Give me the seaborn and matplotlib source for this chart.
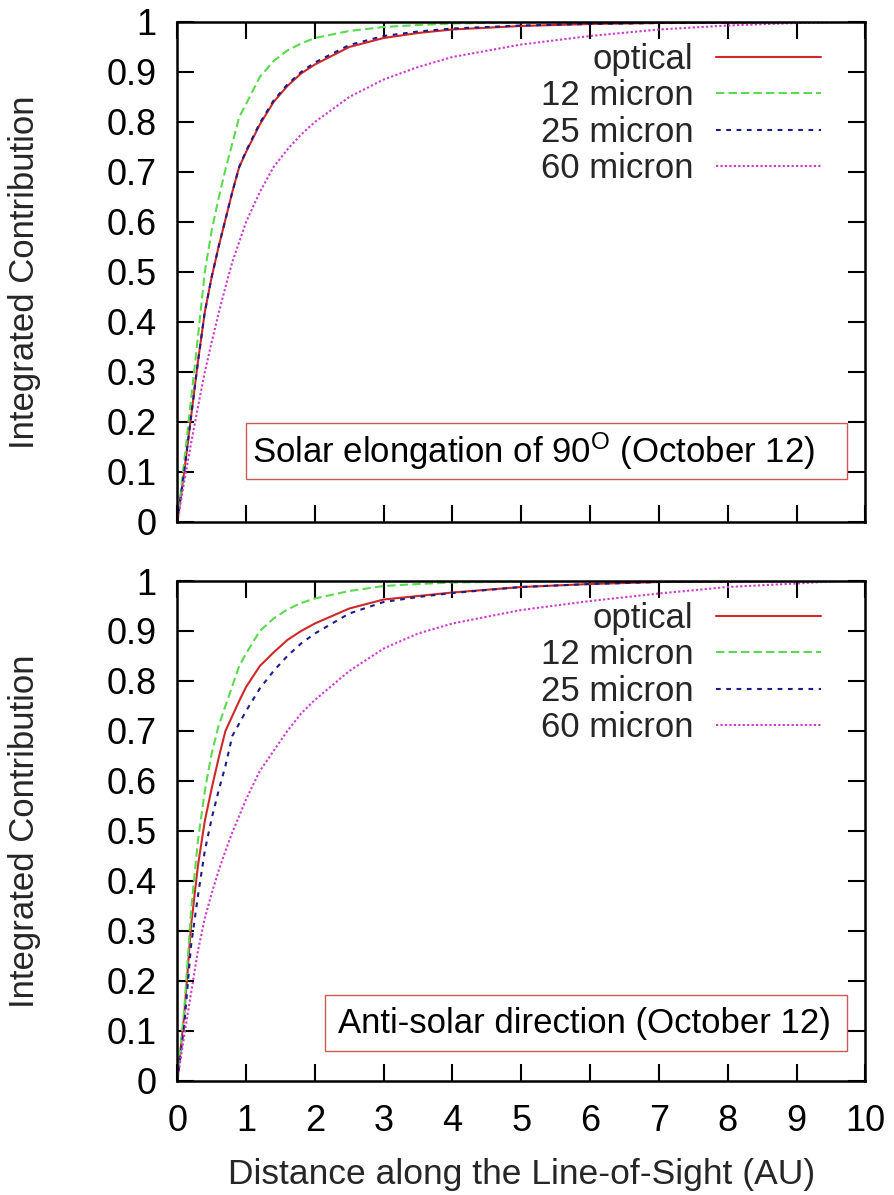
import numpy as np
import pandas as pd
import matplotlib
matplotlib.use("Agg")
import matplotlib.pyplot as plt
from matplotlib.patches import Rectangle
import seaborn as sns

# ---------------- data ----------------
bands = ["optical", "12 micron", "25 micron", "60 micron"]

distance = [0, 0.1, 0.2, 0.3, 0.4, 0.5, 0.6, 0.7, 0.8, 0.9, 1.0, 1.2, 1.4, 1.6,
            1.8, 2.0, 2.5, 3.0, 3.5, 4.0, 5.0, 6.0, 7.0, 8.0, 9.0, 9.6]

# top panel: solar elongation of 90 deg
top_optical = [0, 0.10, 0.21, 0.32, 0.42, 0.49, 0.55, 0.605, 0.66, 0.71, 0.74, 0.795,
               0.84, 0.872, 0.897, 0.915, 0.95, 0.968, 0.978, 0.985, 0.992, 0.996,
               0.998, 0.999, 1.0, 1.0]
top_12 = [0, 0.12, 0.245, 0.37, 0.50, 0.583, 0.647, 0.705, 0.757, 0.81, 0.836, 0.89,
          0.922, 0.943, 0.957, 0.968, 0.982, 0.99, 0.994, 0.997, 0.999, 1.0, 1.0,
          1.0, 1.0, 1.0]
top_25 = [0, 0.10, 0.21, 0.32, 0.42, 0.49, 0.55, 0.605, 0.66, 0.71, 0.742, 0.798,
          0.843, 0.875, 0.9, 0.919, 0.954, 0.972, 0.981, 0.987, 0.993, 0.996,
          0.998, 0.999, 1.0, 1.0]
top_60 = [0, 0.08, 0.157, 0.23, 0.30, 0.36, 0.417, 0.47, 0.52, 0.56, 0.60, 0.66,
          0.71, 0.745, 0.775, 0.80, 0.85, 0.885, 0.91, 0.93, 0.955, 0.972, 0.985,
          0.993, 0.998, 1.0]

# bottom panel: anti-solar direction
bot_optical = [0, 0.13, 0.31, 0.43, 0.52, 0.585, 0.645, 0.70, 0.73, 0.76, 0.788,
               0.83, 0.857, 0.882, 0.90, 0.915, 0.945, 0.963, 0.97, 0.977, 0.988,
               0.994, 0.998, 0.999, 1.0, 1.0]
bot_12 = [0, 0.14, 0.34, 0.48, 0.58, 0.655, 0.71, 0.75, 0.79, 0.83, 0.855, 0.90,
          0.925, 0.943, 0.956, 0.965, 0.98, 0.99, 0.994, 0.997, 0.999, 1.0, 1.0,
          1.0, 1.0, 1.0]
bot_25 = [0, 0.11, 0.27, 0.37, 0.46, 0.525, 0.58, 0.63, 0.69, 0.715, 0.74, 0.785,
          0.82, 0.85, 0.875, 0.895, 0.935, 0.958, 0.968, 0.976, 0.988, 0.994,
          0.998, 0.999, 1.0, 1.0]
bot_60 = [0, 0.09, 0.175, 0.26, 0.325, 0.375, 0.42, 0.46, 0.497, 0.53, 0.563, 0.62,
          0.66, 0.70, 0.735, 0.762, 0.82, 0.865, 0.895, 0.915, 0.942, 0.96, 0.975,
          0.988, 0.995, 1.0]

x_ticks = [0, 1, 2, 3, 4, 5, 6, 7, 8, 9, 10]
y_ticks = [0, 0.1, 0.2, 0.3, 0.4, 0.5, 0.6, 0.7, 0.8, 0.9, 1.0]
y_tick_labels = ["0", "0.1", "0.2", "0.3", "0.4", "0.5", "0.6", "0.7", "0.8", "0.9", "1"]

panel_notes = [r"Solar elongation of 90$^{\mathrm{O}}$ (October 12)",
               "Anti-solar direction (October 12)"]
x_label = "Distance along the Line-of-Sight (AU)"
y_label = "Integrated Contribution"

# ---------------- style ----------------
sns.set_style("ticks")
plt.rcParams["font.family"] = ["Liberation Sans", "DejaVu Sans"]
plt.rcParams["mathtext.fontset"] = "custom"
plt.rcParams["mathtext.rm"] = "Liberation Sans"
plt.rcParams["mathtext.it"] = "Liberation Sans:italic"
plt.rcParams["mathtext.bf"] = "Liberation Sans:bold"
plt.rcParams["lines.scale_dashes"] = False

palette = {"optical": "#d02828", "12 micron": "#5ada4e",
           "25 micron": "#1c1c8a", "60 micron": "#cc3ccc"}
dashes = {"optical": "", "12 micron": (6.0, 3.0),
          "25 micron": (3.4, 4.0), "60 micron": (1.6, 1.6)}

FS = 25
TFS = 26

fig = plt.figure(figsize=(8.94, 11.95), dpi=100)
ax_top = fig.add_axes([0.1983, 0.5632, 0.7696, 0.4184])
ax_bot = fig.add_axes([0.1983, 0.0956, 0.7696, 0.4182])

panels = [
    (ax_top, [top_optical, top_12, top_25, top_60],
     (0.1003, 0.086, 0.8737, 0.112), (0.108, 0.142)),
    (ax_bot, [bot_optical, bot_12, bot_25, bot_60],
     (0.214, 0.060, 0.7595, 0.111), (0.233, 0.114)),
]

for i, (ax, series, box, txtpos) in enumerate(panels):
    frames = []
    for b, vals in zip(bands, series):
        frames.append(pd.DataFrame({"distance": distance, "value": vals, "band": b}))
    df = pd.concat(frames, ignore_index=True)
    sns.lineplot(data=df, x="distance", y="value", hue="band", style="band",
                 hue_order=bands, style_order=bands, palette=palette,
                 dashes=dashes, estimator=None, linewidth=1.5, legend=False, ax=ax)

    ax.set_xlim(0, 10)
    ax.set_ylim(0, 1)
    ax.set_xticks(x_ticks)
    ax.set_yticks(y_ticks)
    ax.set_yticklabels(y_tick_labels)
    ax.tick_params(axis="both", direction="in", length=12, width=1.5,
                   top=True, right=True, labelsize=TFS, colors="black")
    ax.tick_params(axis="y", pad=15)
    ax.tick_params(axis="x", pad=17)
    for s in ax.spines.values():
        s.set_visible(True)
        s.set_linewidth(1.8)
        s.set_color("black")

    ax.set_ylabel(y_label, fontsize=FS)
    ax.yaxis.set_label_coords(-0.198, 0.5)
    if i == 0:
        ax.tick_params(axis="x", labelbottom=False)
        ax.set_xlabel("")
    else:
        ax.set_xlabel(x_label, fontsize=25.5)
        ax.xaxis.set_label_coords(0.5, -0.155)

    handles = list(ax.get_lines()[:4])
    leg = ax.legend(handles, bands, loc="upper right", bbox_to_anchor=(0.935, 0.958),
                    frameon=False, markerfirst=False, fontsize=FS,
                    handlelength=3.0, handletextpad=0.66, labelspacing=0.1,
                    borderpad=0, borderaxespad=0)

    bx, by, bw, bh = box
    ax.add_patch(Rectangle((bx, by), bw, bh, transform=ax.transAxes, fill=False,
                           edgecolor="#cc5a5a", linewidth=1.0, zorder=5))
    ax.text(txtpos[0], txtpos[1], panel_notes[i], transform=ax.transAxes,
            fontsize=FS, ha="left", va="center", color="black", zorder=6)

fig.savefig("out.png", dpi=100)
